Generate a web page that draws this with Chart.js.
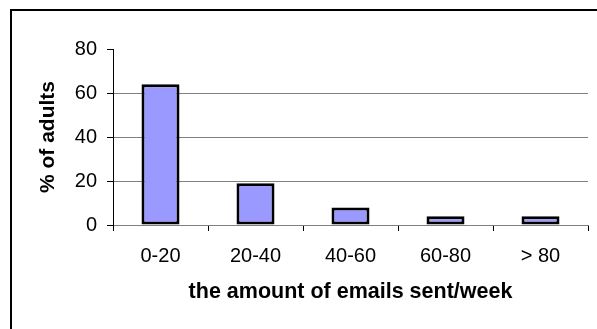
<!DOCTYPE html>
<html>
<head>
<meta charset="utf-8">
<script src="https://cdn.jsdelivr.net/npm/chart.js@4.4.1/dist/chart.umd.min.js"></script>
<style>
  html, body { margin: 0; padding: 0; background: #fff; }
  #wrap { position: relative; width: 597px; height: 329px; overflow: hidden; }
  #frame {
    position: absolute; left: 10px; top: 9px; width: 700px; height: 500px;
    border-left: 2px solid #000; border-top: 2px solid #000;
    pointer-events: none;
  }
  canvas { position: absolute; left: 0; top: 0; }
</style>
</head>
<body>
<div id="wrap">
  <canvas id="chart" width="597" height="329"></canvas>
  <div id="frame"></div>
</div>
<script>
// Share of adults by number of emails sent per week
const categories = ['0-20', '20-40', '40-60', '60-80', '> 80'];
const percentAdults = [64, 19, 8, 4, 4];
const yTicks = [0, 20, 40, 60, 80];

const xTitle = 'the amount of emails sent/week';
const yTitle = '% of adults';

const FONT = '"Liberation Sans", Arial, sans-serif';
const GRID = '#808080';

new Chart(document.getElementById('chart'), {
  type: 'bar',
  data: {
    labels: categories,
    datasets: [{
      data: percentAdults,
      backgroundColor: '#9999FF',
      borderColor: '#000000',
      borderWidth: 3,
      borderSkipped: false,
      categoryPercentage: 1.0,
      barPercentage: 0.4
    }]
  },
  options: {
    responsive: false,
    animation: false,
    devicePixelRatio: 1,
    layout: { padding: { left: 0, top: 49, right: 9, bottom: 0 } },
    plugins: { legend: { display: false }, tooltip: { enabled: false } },
    scales: {
      x: {
        offset: true,
        grid: {
          display: true,
          offset: true,
          drawOnChartArea: false,
          drawTicks: true,
          tickLength: 6,
          tickColor: '#000'
        },
        border: { display: true, color: GRID, width: 1 },
        ticks: {
          color: '#000',
          padding: 13,
          font: { family: FONT, size: 20 },
          maxRotation: 0
        },
        title: {
          display: true,
          text: xTitle,
          color: '#000',
          font: { family: FONT, size: 21.5, weight: 'bold' },
          padding: { top: 0, bottom: 24 }
        },
        afterFit(scale) { scale.height = 104; }
      },
      y: {
        min: 0,
        max: 80,
        afterBuildTicks(scale) { scale.ticks = yTicks.map(v => ({ value: v })); },
        grid: {
          color: ctx => (ctx.tick && ctx.tick.value === 80) ? 'rgba(0,0,0,0)' : GRID,
          lineWidth: 1,
          drawTicks: true,
          tickLength: 6,
          tickColor: '#000'
        },
        border: { display: true, color: '#000', width: 1 },
        ticks: {
          color: '#000',
          padding: 10,
          font: { family: FONT, size: 20 }
        },
        title: {
          display: true,
          text: yTitle,
          color: '#000',
          font: { family: FONT, size: 21, weight: 'bold' },
          padding: { top: 36, bottom: 0 }
        },
        afterFit(scale) { scale.width = 113; }
      }
    }
  }
});
</script>
</body>
</html>
